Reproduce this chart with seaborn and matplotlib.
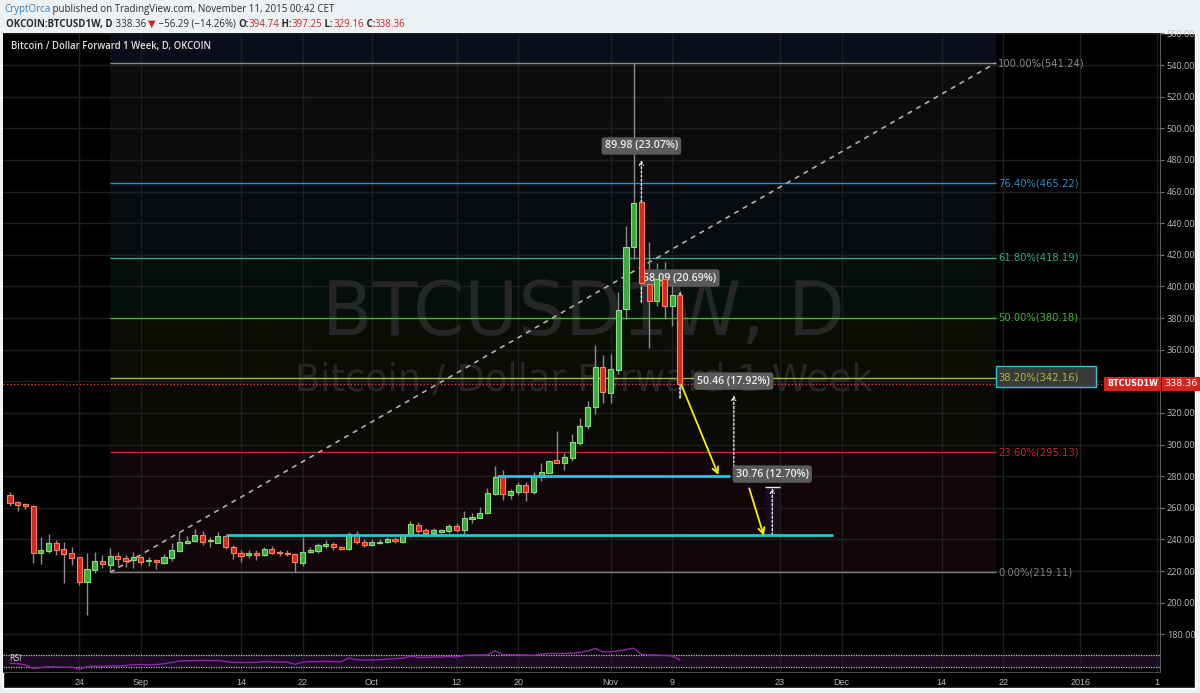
import matplotlib
matplotlib.use('Agg')
import matplotlib.pyplot as plt
import matplotlib.transforms as mtransforms
from matplotlib.patches import Rectangle
import numpy as np
import pandas as pd
import seaborn as sns

# OKCOIN BTCUSD1W daily candles, 2015-08-15 .. 2015-11-10
first_day = pd.Timestamp('2015-08-15')
opens = [268.0, 263.6, 262.3, 261.0, 231.1, 232.8, 237.8, 233.6, 231.1, 228.6,
         212.8, 220.6, 226.5, 223.9, 229.8, 228.4, 226.9, 228.8, 226.3, 226.9,
         224.8, 228.4, 232.6, 237.8, 238.7, 242.5, 238.7, 237.8, 242.1, 235.3,
         231.5, 230.0, 231.1, 230.0, 233.8, 232.2, 231.7, 230.7, 225.3, 232.2,
         232.6, 236.0, 236.8, 235.4, 233.7, 243.2, 238.5, 236.4, 237.5, 238.3,
         240.4, 238.5, 242.5, 249.1, 246.1, 243.8, 244.7, 245.3, 248.5, 245.9,
         252.7, 253.7, 256.5, 268.7, 279.7, 268.1, 269.8, 274.2, 270.0, 279.2,
         282.2, 290.2, 288.5, 291.4, 301.1, 311.7, 323.5, 348.8, 332.8, 347.3,
         385.7, 424.7, 453.3, 401.5, 391.0, 404.7, 387.4, 394.74]
highs = [270.1, 264.4, 263.1, 261.5, 241.6, 243.1, 239.5, 238.5, 235.3, 228.6,
         231.5, 232.2, 230.1, 234.3, 231.9, 230.1, 231.9, 229.6, 229.0, 227.7,
         230.5, 237.4, 244.8, 242.3, 246.7, 245.2, 241.6, 244.8, 242.7, 236.4,
         233.2, 233.2, 233.2, 234.9, 235.7, 233.2, 233.2, 231.1, 241.7, 234.9,
         237.5, 239.6, 238.1, 236.0, 244.9, 245.3, 240.0, 240.0, 240.2, 241.3,
         241.3, 243.4, 251.8, 251.2, 247.2, 247.2, 246.8, 249.7, 250.2, 257.9,
         256.9, 260.7, 272.3, 286.4, 283.9, 271.7, 276.5, 276.3, 282.8, 288.1,
         290.2, 308.8, 294.8, 306.6, 316.5, 327.7, 362.9, 356.8, 357.2, 396.2,
         438.4, 541.24, 455.0, 428.3, 414.8, 415.2, 404.7, 397.25]
lows = [261.0, 258.1, 259.3, 224.8, 224.4, 231.1, 230.2, 212.6, 223.7, 211.1,
        191.9, 218.5, 221.6, 219.11, 222.7, 222.7, 222.0, 223.7, 223.1, 221.4,
        224.4, 226.5, 232.2, 237.0, 238.3, 236.4, 235.3, 237.4, 233.6, 227.9,
        225.8, 228.0, 226.9, 229.4, 230.7, 229.8, 229.8, 219.5, 223.2, 231.1,
        231.5, 234.3, 233.3, 233.3, 233.3, 236.8, 235.4, 235.8, 237.3, 237.5,
        237.9, 237.5, 241.7, 244.2, 243.4, 243.2, 243.8, 244.2, 244.9, 243.4,
        250.1, 253.3, 256.0, 267.8, 264.9, 265.3, 268.1, 264.5, 268.7, 277.1,
        281.8, 288.1, 283.9, 289.8, 299.7, 309.6, 319.1, 326.4, 326.4, 344.6,
        379.4, 417.3, 390.0, 360.8, 387.8, 379.4, 375.2, 329.16]
closes = [263.1, 261.9, 261.0, 231.1, 233.2, 237.8, 233.2, 230.5, 228.2, 212.8,
          221.2, 226.3, 224.4, 229.8, 227.7, 226.5, 228.8, 225.8, 226.9, 225.4,
          228.6, 233.0, 238.3, 239.1, 242.5, 238.3, 239.1, 242.1, 234.9, 231.1,
          229.8, 231.1, 230.0, 233.8, 231.5, 231.1, 230.7, 225.4, 232.2, 233.2,
          236.2, 236.8, 234.9, 233.7, 243.4, 238.3, 236.6, 238.5, 238.1, 240.4,
          238.7, 242.5, 249.7, 245.5, 244.0, 245.9, 245.9, 248.5, 246.0, 253.5,
          254.4, 256.9, 269.1, 279.7, 268.5, 270.4, 274.2, 270.0, 279.7, 282.6,
          289.8, 288.5, 292.3, 301.5, 311.9, 323.9, 348.8, 333.5, 347.7, 385.3,
          425.1, 452.7, 402.1, 391.0, 404.7, 387.4, 394.74, 338.36]
rsi = [41, 40, 36, 24, 27, 30, 29, 28, 29, 21,
       30, 32, 31, 33, 32, 34, 37, 37, 36, 37,
       40, 44, 49, 50, 50, 51, 50, 51, 47, 44,
       44, 44, 44, 47, 46, 46, 45, 38, 45, 47,
       47, 48, 47, 46, 59, 53, 52, 53, 53, 55,
       57, 58, 65, 61, 61, 62, 62, 64, 62, 68,
       69, 69, 69, 83, 70, 70, 70, 69, 68, 72,
       74, 74, 74, 75, 78, 82, 91, 79, 80, 83,
       87, 92, 71, 69, 69, 68, 66, 52]

tick_dates = ['2015-08-24', '2015-09-01', '2015-09-14', '2015-09-22', '2015-10-01',
              '2015-10-12', '2015-10-20', '2015-11-01', '2015-11-09', '2015-11-23',
              '2015-12-01', '2015-12-14', '2015-12-22', '2016-01-01', '2016-01-11']
tick_labels = ['24', 'Sep', '14', '22', 'Oct', '12', '20', 'Nov', '9', '23',
               'Dec', '14', '22', '2016', '1']

# fibonacci retracement drawn from 2015-08-28 low to the 2015-11-04 high
fib_pct = [0.0, 23.6, 38.2, 50.0, 61.8, 76.4, 100.0]
fib_price = [219.11, 295.13, 342.16, 380.18, 418.19, 465.22, 541.24]
fib_colors = ['#808080', '#c62828', '#9ec03a', '#3fb52c', '#26a98a', '#2b8fcc', '#8a8a8a']
fib_fills = ['#130609', '#0a0b06', '#0b0e05', '#060f09', '#070c11', '#0c0c0c', '#0b0d1a']
fib_from, fib_to = 13, 128

# cyan support lines: (price, from day, to day)
supports = [(280.3, 63.2, 93.5), (242.5, 28.0, 106.9)]
# yellow projection arrows: (day0, price0, day1, price1)
projections = [(87.2, 337.6, 92.0, 280.7), (96.0, 272.3, 97.9, 242.3)]
# measuring tool: (day, low, high, label)
measures = [(82.0, 390.03, 480.01, '89.98 (23.07%)'),
            (87.0, 329.5, 396.5, '58.09 (20.69%)'),
            (94.0, 285.8, 331.3, '50.46 (17.92%)'),
            (99.0, 242.8, 272.5, '30.76 (12.70%)')]
last_price = 338.36

sns.set_style('dark', {'axes.facecolor': 'black', 'figure.facecolor': '#eef1f4'})
plt.rcParams['font.family'] = ['Open Sans', 'DejaVu Sans']

W, H = 1200, 693
def fx(px):
    return px / W
def fy(py):
    return 1 - py / H

fig = plt.figure(figsize=(12, 6.93), dpi=100)
fig.patch.set_facecolor('#eef1f4')
fig.patches.append(Rectangle((fx(3), fy(688)), fx(1195) - fx(3), fy(33) - fy(688),
                             transform=fig.transFigure, facecolor='black', zorder=-1))

ax = fig.add_axes([fx(3), fy(646), fx(1160) - fx(3), fy(33) - fy(646)])
rax = fig.add_axes([fx(3), fy(672), fx(1160) - fx(3), fy(646) - fy(672)], sharex=ax)
hax = fig.add_axes([0, 0, 1, 1], zorder=5)
hax.set_axis_off()
hax.patch.set_visible(False)
hax.set_xlim(0, 1)
hax.set_ylim(0, 1)

dates = pd.date_range(first_day, periods=len(opens))
days = np.array((dates - first_day).days)
tick_pos = [(pd.Timestamp(d) - first_day).days for d in tick_dates]

o = np.array(opens); h = np.array(highs); l = np.array(lows); c = np.array(closes)
up = c >= o

# fib background bands
xs = np.array([fib_from, fib_to])
bounds = fib_price + [560.24]
for k in range(len(bounds) - 1):
    ax.fill_between(xs, bounds[k], bounds[k + 1], color=fib_fills[k], lw=0, zorder=0.3)
ax.hlines(fib_price, fib_from, fib_to, colors=fib_colors, lw=1, zorder=1)
for p, v, col in zip(fib_pct, fib_price, fib_colors):
    ax.text(fib_to + 0.35, v, f'{p:.2f}%({v:.2f})', color=col, fontsize=7.2,
            family='DejaVu Sans', va='center', ha='left', zorder=6)
# highlighted 38.2% label box
ax.add_patch(Rectangle((fib_to, 336.55), 13.0, 13.3, facecolor='#3a3a3a',
                       edgecolor='#27c4d4', lw=1, zorder=5))
ax.plot([fib_from, fib_to], [fib_price[0], fib_price[-1]], color='#b0b0b0',
        ls=(0, (3, 3)), lw=1.2, zorder=2)

# watermark
ax.text(74.5, 381.9, 'BTCUSD1W, D', fontsize=53, color='#262626', ha='center',
        va='center', family='DejaVu Sans', zorder=0.8)
ax.text(74.5, 340.2, 'Bitcoin / Dollar Forward 1 Week', fontsize=26.5, color='#262626',
        ha='center', va='center', family='DejaVu Sans', zorder=0.8)

# candles
ax.vlines(days, l, h, color='#8c8c8c', lw=1, zorder=3)
body = np.maximum(np.abs(c - o), 0.8)
ax.bar(days, body, bottom=np.minimum(o, c), width=0.66,
       color=np.where(up, '#3aab3c', '#d4291f'),
       edgecolor=np.where(up, '#86e07a', '#ff7f5a'), lw=0.8, zorder=4)

ax.axhline(last_price, color='#e53935', ls=(0, (1, 1.5)), lw=1, zorder=3.5)

for v, d0, d1 in supports:
    ax.hlines(v, d0, d1, color='#1fc8d6', lw=2, zorder=5)

for d0, p0, d1, p1 in projections:
    ax.annotate('', xy=(d1, p1), xytext=(d0, p0),
                arrowprops=dict(arrowstyle='->', color='#f2f200', lw=1.3,
                                mutation_scale=11, shrinkA=0, shrinkB=0), zorder=6)

for d, lo, hi, lab in measures:
    ax.annotate('', xy=(d, hi), xytext=(d, lo),
                arrowprops=dict(arrowstyle='->', color='#e6e6e6', lw=1, ls=(0, (1.5, 1.5)),
                                mutation_scale=7, shrinkA=0, shrinkB=0), zorder=3.6)
    ax.annotate(lab, xy=(d, hi), xytext=(0, 10), textcoords='offset points',
                ha='center', va='center', fontsize=7.7, color='#eeeeee',
                fontweight='semibold', zorder=3.7,
                bbox=dict(boxstyle='round,pad=0.3,rounding_size=0.25', fc='#5a5a5a', ec='none'))
d, lo, hi, lab = measures[-1]
ax.add_patch(Rectangle((d - 0.95, lo), 1.9, hi - lo, facecolor='#1c0a1e', lw=0, zorder=0.9))
ax.hlines(hi + 0.5, d - 0.95, d + 0.95, color='#e6e6e6', lw=1, zorder=3.6)

# axes styling
ax.set_xlim(-0.91, 149.35)
ax.set_ylim(172.57, 560.24)
yt = np.arange(180, 561, 20)
ax.set_yticks(yt, ['' if v == 340 else f'{v:.2f}' for v in yt])
ax.yaxis.tick_right()
ax.tick_params(axis='y', length=3, color='#777777', labelcolor='#b8b8b8',
               labelsize=6.6, pad=2)
ax.tick_params(axis='x', labelbottom=False, length=0)
ax.set_axisbelow(True)
ax.grid(True, color='#1f1f1f', lw=1)
for s in ['top', 'left']:
    ax.spines[s].set_visible(False)
ax.spines['right'].set_color('#5a5a5a')
ax.spines['bottom'].set_color('#4a4a4a')

# last price tags on the axis
blend = mtransforms.blended_transform_factory(ax.transAxes, ax.transData)
ax.text(1.004, last_price, '338.36', transform=blend, fontsize=6.8, color='white',
        va='center', ha='left', family='DejaVu Sans', clip_on=False, zorder=7,
        bbox=dict(boxstyle='square,pad=0.25', fc='#d32420', ec='none'))
ax.text(0.9982, last_price, 'BTCUSD1W', transform=blend, fontsize=5.8, color='white',
        fontweight='bold', va='center', ha='right', family='DejaVu Sans', zorder=7,
        bbox=dict(boxstyle='square,pad=0.35', fc='#d32420', ec='none'))

# RSI pane
rax.axhspan(30, 70, color='#1a0a22', lw=0, zorder=0.2)
rax.axhline(70, color='#c0c0c0', ls=(0, (1, 1)), lw=0.9)
rax.axhline(30, color='#c0c0c0', ls=(0, (1, 1)), lw=0.9)
sns.lineplot(x=days, y=rsi, ax=rax, color='#8e24aa', lw=1)
rax.text(6 / 1157, 56, 'RSI', transform=mtransforms.blended_transform_factory(rax.transAxes, rax.transData),
         fontsize=5.5, color='#dddddd', va='center', family='DejaVu Sans')
rax.set_ylim(12.3, 99)
rax.set_yticks([])
rax.set_ylabel('')
rax.set_xticks(tick_pos, tick_labels)
rax.tick_params(axis='x', length=0, labelcolor='#b8b8b8', labelsize=6.5, pad=4)
for lab in rax.get_xticklabels():
    lab.set_family('Liberation Sans')
rax.set_axisbelow(True)
rax.grid(True, axis='x', color='#1f1f1f', lw=1)
rax.grid(False, axis='y')
for s in ['top', 'left']:
    rax.spines[s].set_visible(False)
rax.spines['right'].set_color('#5a5a5a')
rax.spines['bottom'].set_color('#4a4a4a')
ax.set_xlim(-0.91, 149.35)

# chart title and header
hax.text(fx(11), fy(46), 'Bitcoin / Dollar Forward 1 Week, D, OKCOIN', color='#dedede',
         fontsize=6.9, fontweight='semibold', va='center')

def chain(parts, x0, y0):
    prev = None
    for txt, col, wt in parts:
        if prev is None:
            prev = hax.text(fx(x0), fy(y0), txt, color=col, fontweight=wt, fontsize=7,
                            va='bottom', ha='left')
        else:
            prev = hax.annotate(txt, xy=(1, 0), xycoords=prev, color=col, fontweight=wt,
                                fontsize=7, va='bottom', ha='left')

dark, red = '#2b2b2b', '#c62828'
chain([('CryptOrca', '#2a84c6', 'normal'),
       (' published on TradingView.com, November 11, 2015 00:42 CET', dark, 'normal')], 4, 15)
chain([('OKCOIN:BTCUSD1W, D', dark, 'bold'), (' 338.36 ', dark, 'normal'),
       ('▼', red, 'normal'), (' −56.29 (−14.26%) ', dark, 'normal'),
       ('O:', dark, 'bold'), ('394.74', red, 'normal'), (' H:', dark, 'bold'),
       ('397.25', red, 'normal'), (' L:', dark, 'bold'), ('329.16', red, 'normal'),
       (' C:', dark, 'bold'), ('338.36', red, 'normal')], 6, 30)

fig.savefig('out.png', dpi=100, facecolor=fig.get_facecolor())
